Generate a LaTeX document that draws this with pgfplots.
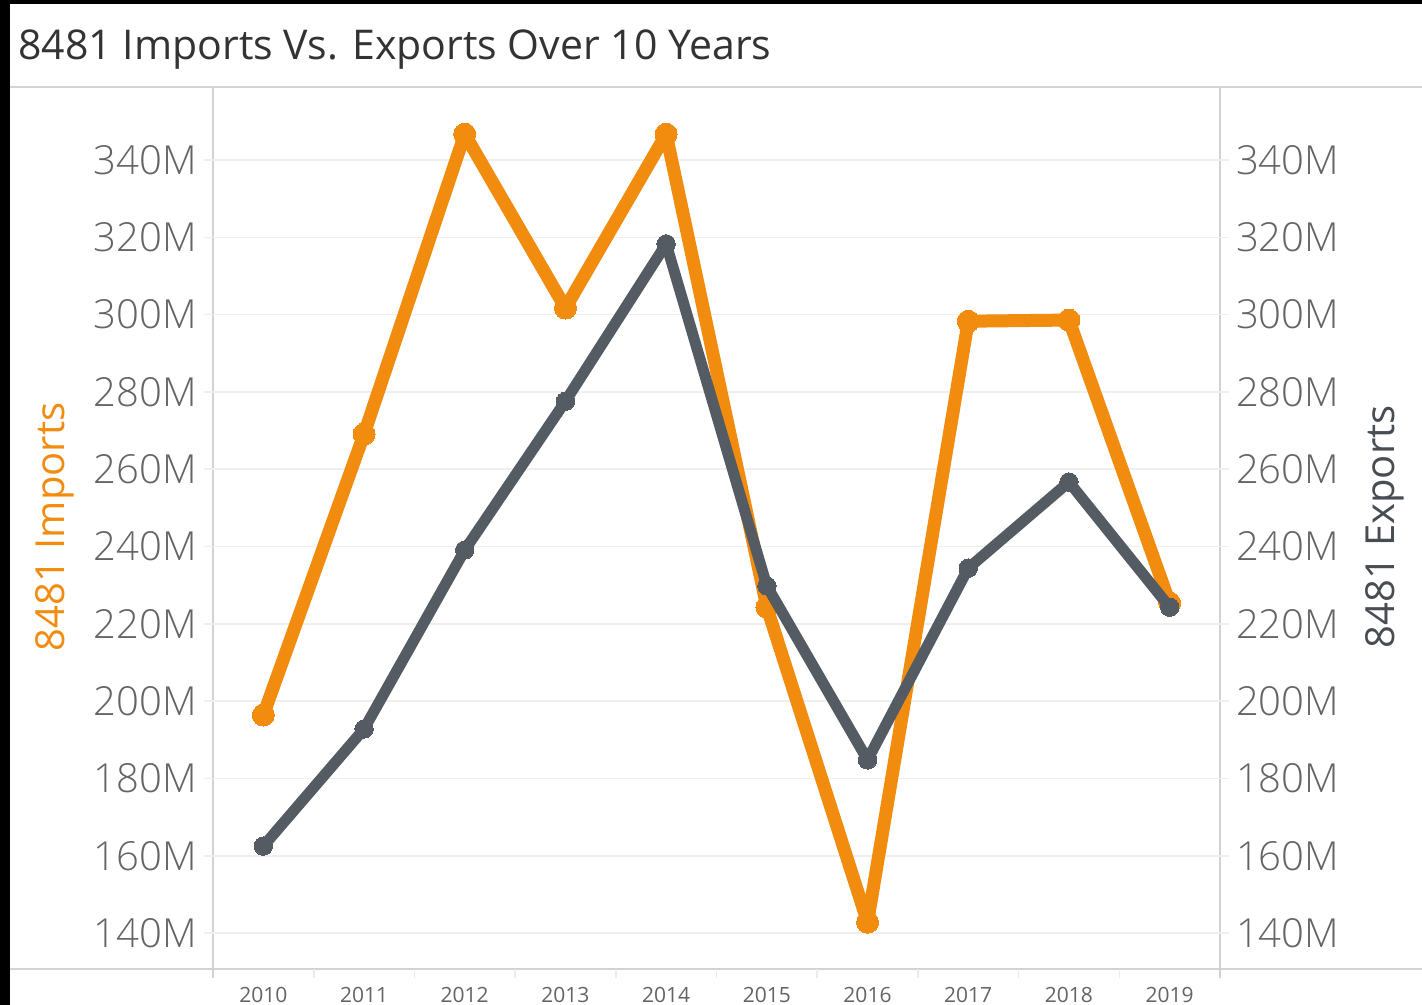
\documentclass[border=0pt]{standalone}
\usepackage{pgfplots}
\pgfplotsset{compat=1.18}
\usepackage{fontspec}
\setmainfont{Open Sans}
\newfontfamily\lightfont{Open Sans Light}
\definecolor{imp}{HTML}{F28C0F}
\definecolor{expc}{HTML}{555B63}
\definecolor{tickc}{HTML}{646464}
\definecolor{framec}{HTML}{D2D2D2}
\definecolor{gridc}{HTML}{EFEFEF}
\definecolor{titlec}{HTML}{333333}

\pgfplotsset{
  base/.style={
    at={(106.5pt,18pt)}, anchor=south west,
    scale only axis, width=503.5pt, height=441pt,
    xmin=2009.5, xmax=2019.5, ymin=130.7, ymax=358.9,
    axis line style={draw=none},
    ytick={140,160,...,340},
    yticklabels={140M,160M,180M,200M,220M,240M,260M,280M,300M,320M,340M},
    yticklabel style={font=\lightfont\fontsize{20}{24}\selectfont, text=tickc},
    /pgf/number format/assume math mode=true,
    major tick length=9pt, tick align=center,
    ytick style={draw=gridc, line width=0.8pt},
  }
}

\begin{document}
\begin{tikzpicture}
\path[use as bounding box] (0pt,0pt) rectangle (711pt,502.5pt);
\fill[white] (0pt,0pt) rectangle (711pt,502.5pt);

% frame
\draw[framec, line width=0.8pt] (5pt,459pt) -- (711pt,459pt);
\draw[framec, line width=0.8pt] (5pt,18pt) -- (711pt,18pt);
\draw[framec, line width=0.8pt] (106.5pt,459pt) -- (106.5pt,13.5pt);
\draw[framec, line width=0.8pt] (610pt,459pt) -- (610pt,13.5pt);
\foreach \k in {1,...,9} {
  \pgfmathsetmacro{\xx}{106.5+\k*50.35}
  \draw[framec!45, line width=0.8pt] (\xx pt,18pt) -- (\xx pt,13.5pt);
}

\begin{axis}[base,
    xtick={2010,...,2019},
    xticklabels={2010,2011,2012,2013,2014,2015,2016,2017,2018,2019},
    xticklabel style={font=\fontsize{10.5}{12}\selectfont, text=tickc, yshift=-1.3pt},
    xtick style={draw=none},
    ymajorgrids, grid style={gridc, line width=0.8pt},
  ]
  \addplot[imp, line width=6.5pt, line join=round, line cap=round,
           mark=*, mark size=5.5pt, mark options={fill=imp, draw=imp, line width=0pt}]
  coordinates {
    (2010,196.4) (2011,269.1) (2012,346.7) (2013,301.7) (2014,346.7)
    (2015,224.3) (2016,142.8) (2017,298.3) (2018,298.6) (2019,225.4)
  };
\end{axis}

\begin{axis}[base,
    axis y line*=right, axis x line=none,
  ]
  \addplot[expc, line width=5.5pt, line join=round, line cap=round,
           mark=*, mark size=4.6pt, mark options={fill=expc, draw=expc, line width=0pt}]
  coordinates {
    (2010,162.5) (2011,192.8) (2012,239.1) (2013,277.6) (2014,318.3)
    (2015,229.8) (2016,184.8) (2017,234.4) (2018,256.7) (2019,224.3)
  };
\end{axis}

\node[anchor=base west, font=\fontsize{20.5}{24}\selectfont, text=titlec, inner sep=0pt]
  at (9pt,472.5pt) {8481 Imports Vs. Exports Over 10 Years};
\node[rotate=90, font=\fontsize{20}{24}\selectfont, text=imp] at (27.5pt,239pt) {8481 Imports};
\node[rotate=90, font=\fontsize{20}{24}\selectfont, text=expc!85!black] at (692.5pt,239pt) {8481 Exports};

% black borders of the screenshot
\fill[black] (0pt,0pt) rectangle (5pt,502.5pt);
\fill[black] (0pt,500.5pt) rectangle (711pt,502.5pt);
\end{tikzpicture}
\end{document}
